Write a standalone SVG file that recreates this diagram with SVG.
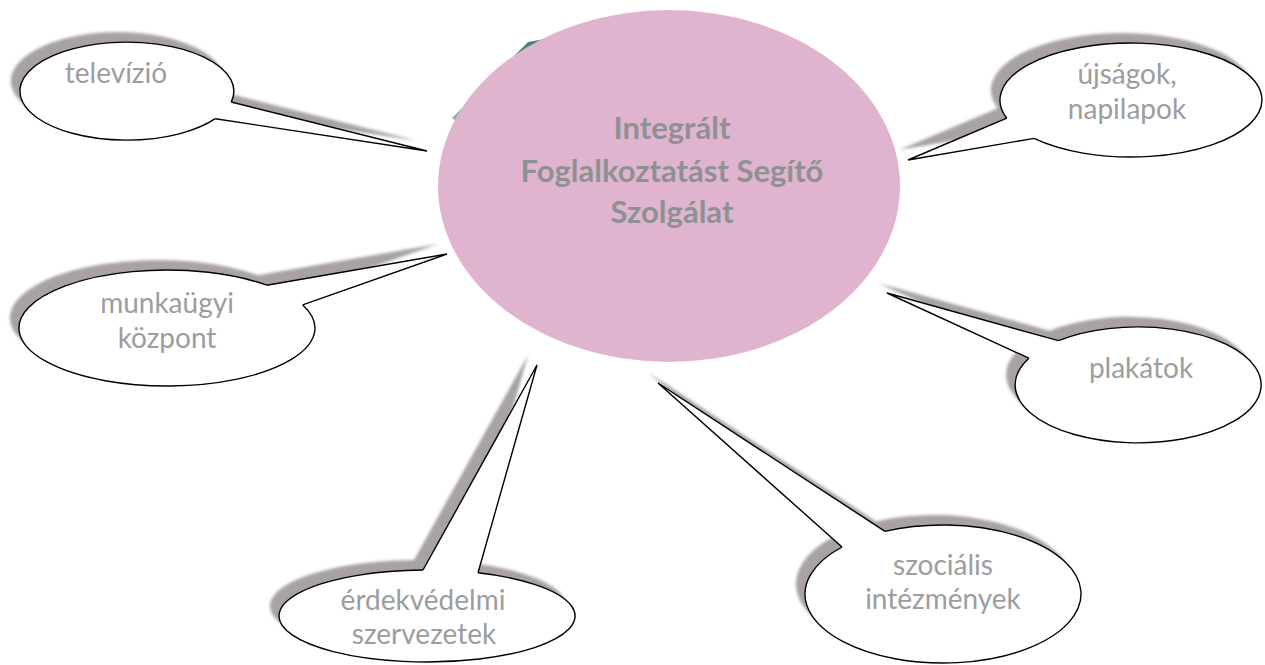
<svg xmlns="http://www.w3.org/2000/svg" width="1265" height="665" viewBox="0 0 1265 665">
<defs>
<filter id="soft" x="-10%" y="-10%" width="120%" height="120%"><feGaussianBlur stdDeviation="1.5"/></filter>
<linearGradient id="teal" x1="0" y1="0" x2="1" y2="0"><stop offset="0" stop-color="#8fb5ad"/><stop offset="0.5" stop-color="#4f8279"/></linearGradient>
</defs>
<style>
.shadow{fill:#a8a2a2;filter:url(#soft)}
.bubble{fill:#fff;stroke:none}
.outline{fill:none;stroke:#000;stroke-width:1.4;stroke-linejoin:miter}
.lbl{font-family:Lato,"Open Sans","DejaVu Sans",sans-serif;font-size:28px;font-weight:400;fill:#9b9d9f;text-anchor:middle}
.title{font-family:Lato,"Open Sans","DejaVu Sans",sans-serif;font-size:31px;font-weight:bold;fill:#8e9192;text-anchor:middle}
</style>
<rect width="1265" height="665" fill="#fff"/>

<g id="televizio">
<path class="shadow" transform="translate(-9,-10)" d="M 215.3 118.7 L 427 151 L 231.2 102 A 107 49 0 1 0 215.3 118.7 Z"/>
<path class="bubble" d="M 215.3 118.7 L 427 151 L 231.2 102 A 107 49 0 1 0 215.3 118.7 Z"/>
<path class="outline" d="M 231.2 102 A 107 49 0 1 0 215.3 118.7"/>
<text class="lbl" x="116" y="83">televízió</text>
</g>

<g id="ujsagok">
<path class="shadow" transform="translate(-9,-10)" d="M 1006.8 118.2 L 908 160 L 1034.1 138.4 A 131 57 0 1 0 1006.8 118.2 Z"/>
<path class="bubble" d="M 1006.8 118.2 L 908 160 L 1034.1 138.4 A 131 57 0 1 0 1006.8 118.2 Z"/>
<path class="outline" d="M 1034.1 138.4 A 131 57 0 1 0 1006.8 118.2"/>
<text class="lbl" x="1127" y="84">újságok,</text>
<text class="lbl" x="1127" y="119">napilapok</text>
</g>

<g id="munkaugyi">
<path class="shadow" transform="translate(-9,-10)" d="M 266.8 285.2 L 447 254 L 302.7 304.9 A 148 58 0 1 1 266.8 285.2 Z"/>
<path class="bubble" d="M 266.8 285.2 L 447 254 L 302.7 304.9 A 148 58 0 1 1 266.8 285.2 Z"/>
<path class="outline" d="M 302.7 304.9 A 148 58 0 1 1 266.8 285.2"/>
<text class="lbl" x="167" y="313">munkaügyi</text>
<text class="lbl" x="167" y="348">központ</text>
</g>

<g id="plakatok">
<path class="shadow" transform="translate(-9,-10)" d="M 1058.4 340.7 L 887 293 L 1028.9 358.2 A 123 58 0 1 0 1058.4 340.7 Z"/>
<path class="bubble" d="M 1058.4 340.7 L 887 293 L 1028.9 358.2 A 123 58 0 1 0 1058.4 340.7 Z"/>
<path class="outline" d="M 1028.9 358.2 A 123 58 0 1 0 1058.4 340.7"/>
<text class="lbl" x="1141" y="378">plakátok</text>
</g>

<g id="erdekvedelmi">
<path class="shadow" transform="translate(-9,-10)" d="M 423 570 L 537 365 L 478 572.8 A 148 46 0 1 1 423 570 Z"/>
<path class="bubble" d="M 423 570 L 537 365 L 478 572.8 A 148 46 0 1 1 423 570 Z"/>
<path class="outline" d="M 478 572.8 A 148 46 0 1 1 423 570"/>
<text class="lbl" x="423" y="610">érdekvédelmi</text>
<text class="lbl" x="424" y="644">szervezetek</text>
</g>

<g id="szocialis">
<path class="shadow" transform="translate(-9,-10)" d="M 885 531.4 L 658 383 L 842 547 A 138 69 0 1 0 885 531.4 Z"/>
<path class="bubble" d="M 885 531.4 L 658 383 L 842 547 A 138 69 0 1 0 885 531.4 Z"/>
<path class="outline" d="M 842 547 A 138 69 0 1 0 885 531.4"/>
<text class="lbl" x="943" y="575">szociális</text>
<text class="lbl" x="943" y="609">intézmények</text>
</g>

<g id="connectors">
<path class="outline" d="M 231.2 102 L 427 151 L 215.3 118.7"/>
<path class="outline" d="M 1006.8 118.2 L 908 160 L 1034.1 138.4"/>
<path class="outline" d="M 266.8 285.2 L 447 254 L 302.7 304.9"/>
<path class="outline" d="M 1058.4 340.7 L 887 293 L 1028.9 358.2"/>
<path class="outline" d="M 423 570 L 537 365 L 478 572.8"/>
<path class="outline" d="M 885 531.4 L 658 383 L 842 547"/>
</g>

<g id="center">
<polygon points="528,42 550,38 570,60 480,140 452,118" fill="url(#teal)"/>
<ellipse cx="669" cy="186" rx="231" ry="176" fill="#e0b4cf"/>
<text class="title" x="672" y="139">Integrált</text>
<text class="title" x="672" y="182">Foglalkoztatást Segítő</text>
<text class="title" x="672" y="223">Szolgálat</text>
</g>
</svg>
